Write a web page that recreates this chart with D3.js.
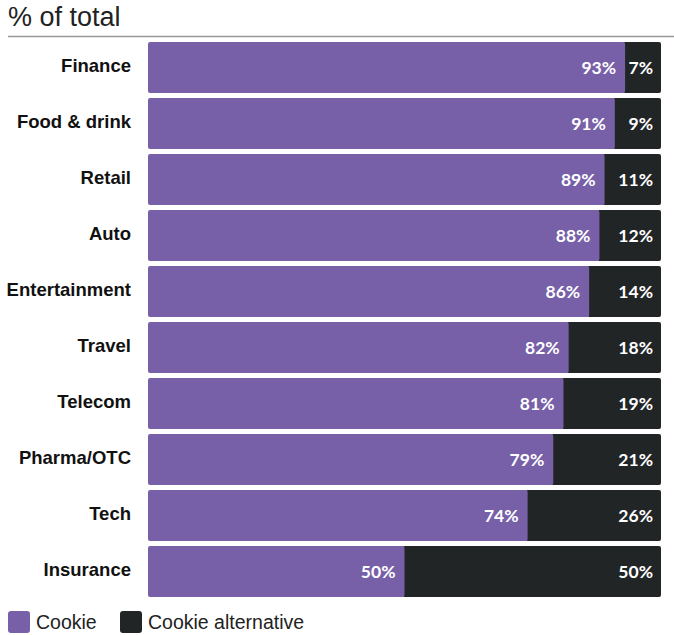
<!DOCTYPE html>
<html><head><meta charset="utf-8">
<script src="https://cdn.jsdelivr.net/npm/d3@7"></script>
<style>body{margin:0;background:#fff}</style>
</head><body>
<svg id="c" width="674" height="635"></svg>
<script>
const categories = ["Finance","Food & drink","Retail","Auto","Entertainment","Travel","Telecom","Pharma/OTC","Tech","Insurance"];
const cookie = [93,91,89,88,86,82,81,79,74,50];
const alternative = [7,9,11,12,14,18,19,21,26,50];
const seriesNames = ["Cookie","Cookie alternative"];
const colors = ["#7760a8","#212526"];

const svg = d3.select("#c");
const x = d3.scaleLinear().domain([0,100]).range([148,661]);
const y = d3.scaleBand().domain(categories).range([42,597]).paddingInner(0.09).paddingOuter(0);

svg.append("text").attr("x",8).attr("y",26).text("% of total")
  .attr("font-family","Liberation Sans Narrow, Liberation Sans, sans-serif").attr("font-size",27).attr("font-weight",300).attr("fill","#222");
svg.append("line").attr("x1",8).attr("x2",674).attr("y1",36.5).attr("y2",36.5).attr("stroke","#999").attr("stroke-width",1.5);

const g = svg.append("g");
categories.forEach((c,i)=>{
  const y0 = y(c), h = y.bandwidth();
  g.append("rect").attr("x",x(cookie[i])-2).attr("y",y0).attr("width",x(100)-x(cookie[i])+2).attr("height",h).attr("rx",2).attr("fill",colors[1]);
  g.append("rect").attr("x",x(0)).attr("y",y0).attr("width",x(cookie[i])-x(0)).attr("height",h).attr("rx",2).attr("fill",colors[0]);
  g.append("text").attr("x",131).attr("y",y0+h/2-2).attr("dy","0.35em").attr("text-anchor","end")
    .attr("font-family","Liberation Sans, Arial, sans-serif").attr("font-weight","bold").attr("font-size",18.5).attr("fill","#111").text(c);
  g.append("text").attr("x",x(cookie[i])-9).attr("y",y0+h/2).attr("dy","0.36em").attr("text-anchor","end")
    .attr("font-family","Lato, sans-serif").attr("font-weight","bold").attr("font-size",17.5).attr("fill","#fff").text(cookie[i]+"%");
  g.append("text").attr("x",x(100)-8).attr("y",y0+h/2).attr("dy","0.36em").attr("text-anchor","end")
    .attr("font-family","Lato, sans-serif").attr("font-weight","bold").attr("font-size",17.5).attr("fill","#fff").text(alternative[i]+"%");
});

const lg = svg.append("g");
[[8,36],[120,148]].forEach((p,i)=>{
  lg.append("rect").attr("x",p[0]).attr("y",611).attr("width",22).attr("height",22).attr("rx",3).attr("fill",colors[i]);
  lg.append("text").attr("x",p[1]).attr("y",629).text(seriesNames[i])
    .attr("font-family","Liberation Sans Narrow, Liberation Sans, sans-serif").attr("font-size",19.5).attr("fill","#222");
});
</script>
</body></html>
